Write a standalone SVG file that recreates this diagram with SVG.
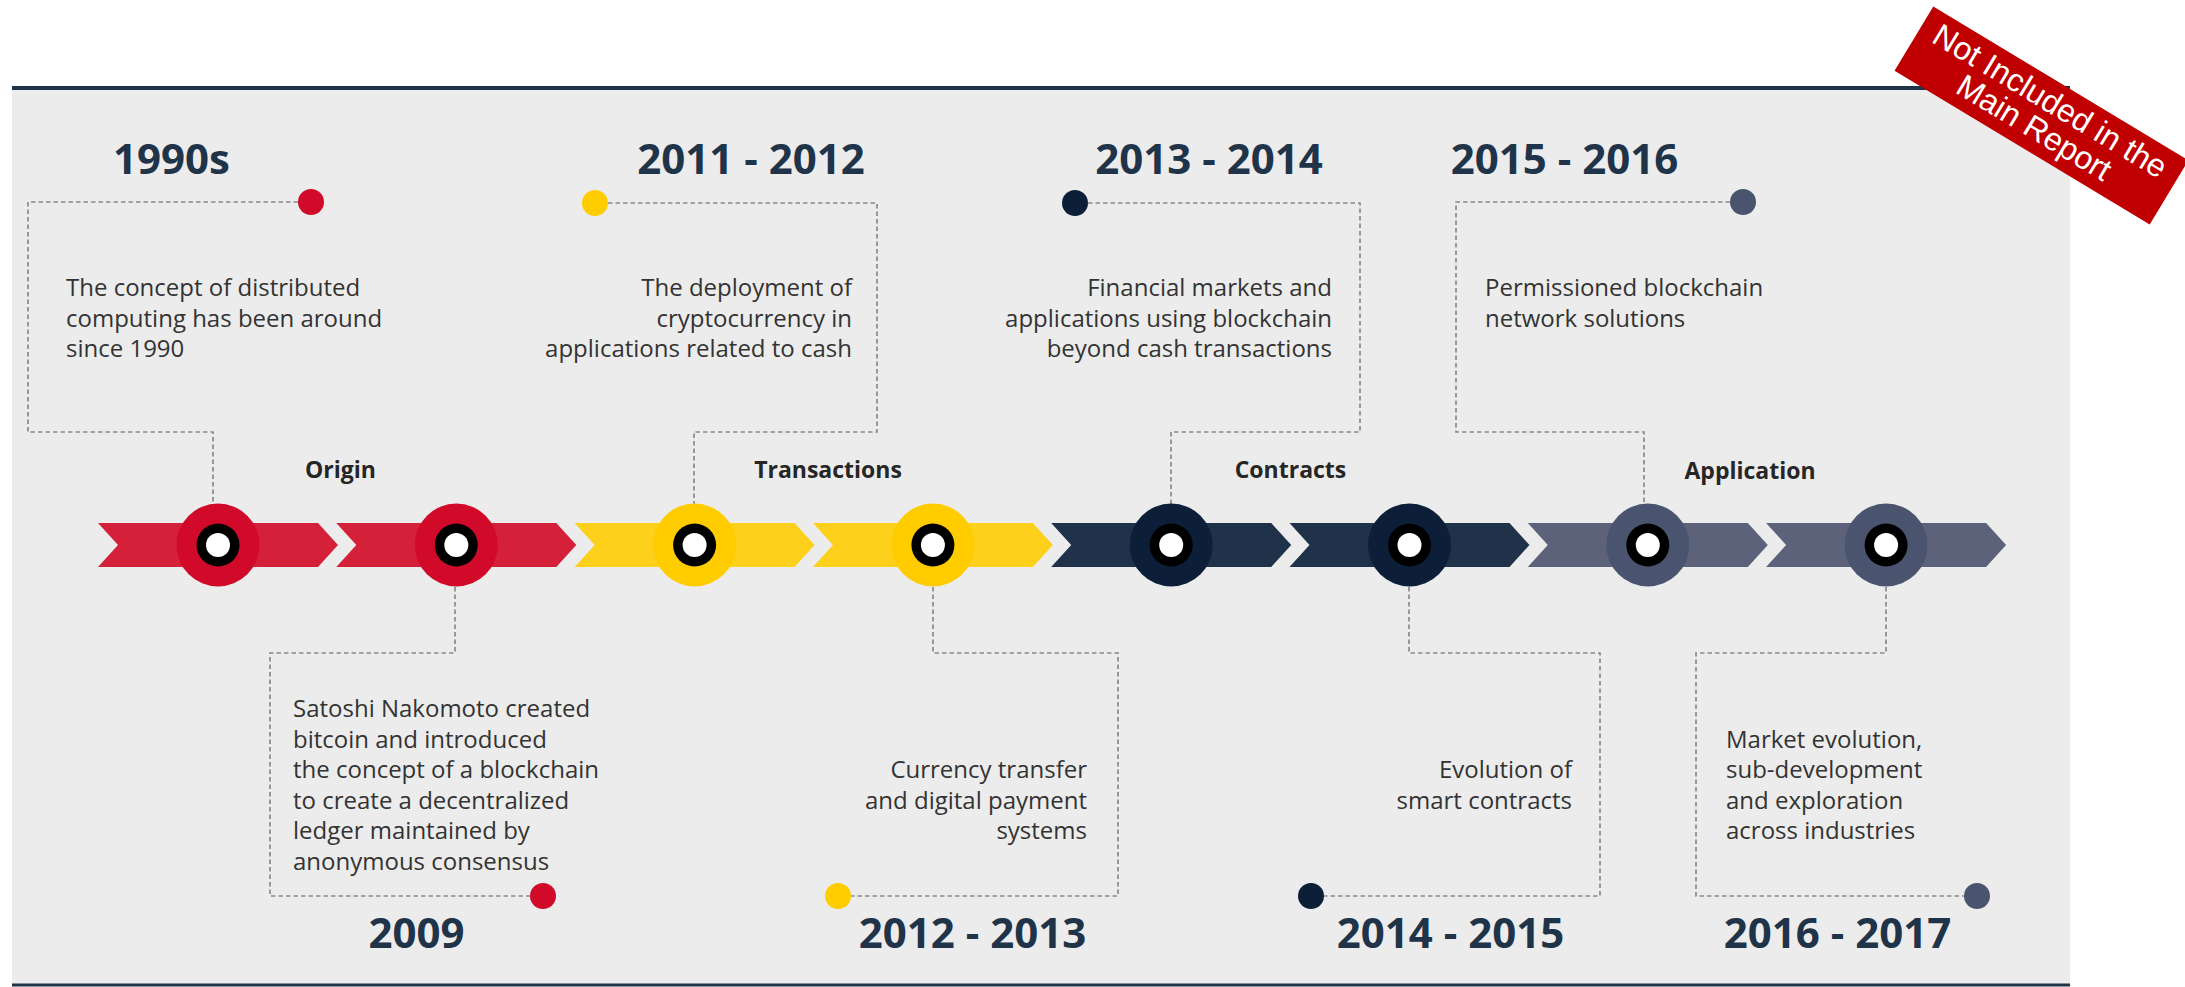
<svg xmlns="http://www.w3.org/2000/svg" width="2185" height="987" viewBox="0 0 2185 987">
  <style>
    .title { font-family: "Open Sans", "Noto Sans", sans-serif; font-weight: 700; font-size: 42px; fill: #1f3349; }
    .phase { font-family: "Open Sans", "Noto Sans", sans-serif; font-weight: 700; font-size: 23px; fill: #262626; text-anchor: middle; }
    .body { font-family: "Open Sans", "Noto Sans", sans-serif; font-size: 24px; fill: #333333; }
    .end { text-anchor: end; }
    .mid { text-anchor: middle; }
    .dash { fill: none; stroke: #8a8a8a; stroke-width: 1.7; stroke-dasharray: 4.5 3; }
    .red-band { fill: #d52039; } .red-dot { fill: #d10a2a; }
    .yel-band { fill: #fdd01c; } .yel-dot { fill: #ffcc00; }
    .nav-band { fill: #1f3249; } .nav-dot { fill: #0d1f38; }
    .sla-band { fill: #5b627a; } .sla-dot { fill: #4b546f; }
    .ring { fill: #000000; } .hole { fill: #ffffff; }
    .badge-text { font-family: "Liberation Sans", Arial, sans-serif; font-size: 32px; fill: #ffffff; text-anchor: middle; }
  </style>
  <defs>
    <polygon id="chev" points="0,523 220,523 240,545 220,567 0,567 20,545"/>
    <g id="eye">
      <circle r="21.5" class="ring"/>
      <circle r="12" class="hole"/>
    </g>
  </defs>

  <!-- panel -->
  <rect x="12" y="88" width="2058" height="897" fill="#ececec"/>
  <line x1="12" y1="88" x2="2070" y2="88" stroke="#1f3349" stroke-width="4"/>
  <line x1="12" y1="985" x2="2070" y2="985" stroke="#1f3349" stroke-width="3"/>

  <!-- dashed leader lines -->
  <g id="connectors">
    <path class="dash" d="M298,202 H28 V432 H213 V504"/>
    <path class="dash" d="M608,203 H877 V432 H694 V504"/>
    <path class="dash" d="M1088,203 H1360 V432 H1171 V504"/>
    <path class="dash" d="M1730,202 H1456 V432 H1644 V504"/>
    <path class="dash" d="M455,587 V653 H270 V896 H530"/>
    <path class="dash" d="M933,587 V653 H1118 V896 H851"/>
    <path class="dash" d="M1409,587 V653 H1600 V896 H1324"/>
    <path class="dash" d="M1886,587 V653 H1696 V896 H1964"/>
  </g>

  <!-- timeline band -->
  <g id="band">
    <use href="#chev" x="98" class="red-band"/>
    <use href="#chev" x="336.3" class="red-band"/>
    <use href="#chev" x="574.6" class="yel-band"/>
    <use href="#chev" x="812.9" class="yel-band"/>
    <use href="#chev" x="1051.2" class="nav-band"/>
    <use href="#chev" x="1289.5" class="nav-band"/>
    <use href="#chev" x="1527.8" class="sla-band"/>
    <use href="#chev" x="1766.1" class="sla-band"/>
  </g>

  <g id="m1990"><circle cx="218" cy="545" r="41.5" class="red-dot"/><use href="#eye" x="218" y="545"/></g>
  <g id="m2009"><circle cx="456.3" cy="545" r="41.5" class="red-dot"/><use href="#eye" x="456.3" y="545"/></g>
  <g id="m2011"><circle cx="694.6" cy="545" r="41.5" class="yel-dot"/><use href="#eye" x="694.6" y="545"/></g>
  <g id="m2012"><circle cx="932.9" cy="545" r="41.5" class="yel-dot"/><use href="#eye" x="932.9" y="545"/></g>
  <g id="m2013"><circle cx="1171.2" cy="545" r="41.5" class="nav-dot"/><use href="#eye" x="1171.2" y="545"/></g>
  <g id="m2014"><circle cx="1409.5" cy="545" r="41.5" class="nav-dot"/><use href="#eye" x="1409.5" y="545"/></g>
  <g id="m2015"><circle cx="1647.8" cy="545" r="41.5" class="sla-dot"/><use href="#eye" x="1647.8" y="545"/></g>
  <g id="m2016"><circle cx="1886.1" cy="545" r="41.5" class="sla-dot"/><use href="#eye" x="1886.1" y="545"/></g>

  <!-- phase labels -->
  <g id="phases">
    <text class="phase" x="340.5" y="478">Origin</text>
    <text class="phase" x="828" y="478">Transactions</text>
    <text class="phase" x="1290.5" y="478">Contracts</text>
    <text class="phase" x="1750" y="479">Application</text>
  </g>

  <!-- upper milestones -->
  <g id="n1990s">
    <text class="title mid" x="171.5" y="174">1990s</text>
    <circle cx="311" cy="202" r="13" class="red-dot"/>
    <text class="body" x="66" y="296">The concept of distributed</text>
    <text class="body" x="66" y="326.5">computing has been around</text>
    <text class="body" x="66" y="357">since 1990</text>
  </g>
  <g id="n2011">
    <text class="title mid" x="751" y="174">2011 - 2012</text>
    <circle cx="595" cy="203" r="13" class="yel-dot"/>
    <text class="body end" x="852" y="296">The deployment of</text>
    <text class="body end" x="852" y="326.5">cryptocurrency in</text>
    <text class="body end" x="852" y="357">applications related to cash</text>
  </g>
  <g id="n2013">
    <text class="title mid" x="1209" y="174">2013 - 2014</text>
    <circle cx="1075" cy="203" r="13" class="nav-dot"/>
    <text class="body end" x="1332" y="296">Financial markets and</text>
    <text class="body end" x="1332" y="326.5">applications using blockchain</text>
    <text class="body end" x="1332" y="357">beyond cash transactions</text>
  </g>
  <g id="n2015">
    <text class="title mid" x="1564.5" y="174">2015 - 2016</text>
    <circle cx="1743" cy="202" r="13" class="sla-dot"/>
    <text class="body" x="1485" y="296">Permissioned blockchain</text>
    <text class="body" x="1485" y="326.5">network solutions</text>
  </g>

  <!-- lower milestones -->
  <g id="n2009">
    <text class="title mid" x="416.5" y="948">2009</text>
    <circle cx="543" cy="896" r="13" class="red-dot"/>
    <text class="body" x="293" y="717">Satoshi Nakomoto created</text>
    <text class="body" x="293" y="747.5">bitcoin and introduced</text>
    <text class="body" x="293" y="778">the concept of a blockchain</text>
    <text class="body" x="293" y="808.5">to create a decentralized</text>
    <text class="body" x="293" y="839">ledger maintained by</text>
    <text class="body" x="293" y="869.5">anonymous consensus</text>
  </g>
  <g id="n2012">
    <text class="title mid" x="972.5" y="948">2012 - 2013</text>
    <circle cx="838" cy="896" r="13" class="yel-dot"/>
    <text class="body end" x="1087" y="778">Currency transfer</text>
    <text class="body end" x="1087" y="808.5">and digital payment</text>
    <text class="body end" x="1087" y="839">systems</text>
  </g>
  <g id="n2014">
    <text class="title mid" x="1450.5" y="948">2014 - 2015</text>
    <circle cx="1311" cy="896" r="13" class="nav-dot"/>
    <text class="body end" x="1572" y="778">Evolution of</text>
    <text class="body end" x="1572" y="808.5">smart contracts</text>
  </g>
  <g id="n2016">
    <text class="title mid" x="1837.5" y="948">2016 - 2017</text>
    <circle cx="1977" cy="896" r="13" class="sla-dot"/>
    <text class="body" x="1726" y="747.5">Market evolution,</text>
    <text class="body" x="1726" y="778">sub-development</text>
    <text class="body" x="1726" y="808.5">and exploration</text>
    <text class="body" x="1726" y="839">across industries</text>
  </g>

  <!-- corner stamp -->
  <g id="stamp" transform="translate(2041.5,115.5) rotate(31.1)">
    <rect x="-149" y="-37.5" width="298" height="75" fill="#c00000"/>
    <text class="badge-text" x="0" y="-6">Not Included in the</text>
    <text class="badge-text" x="0" y="25">Main Report</text>
  </g>
</svg>
